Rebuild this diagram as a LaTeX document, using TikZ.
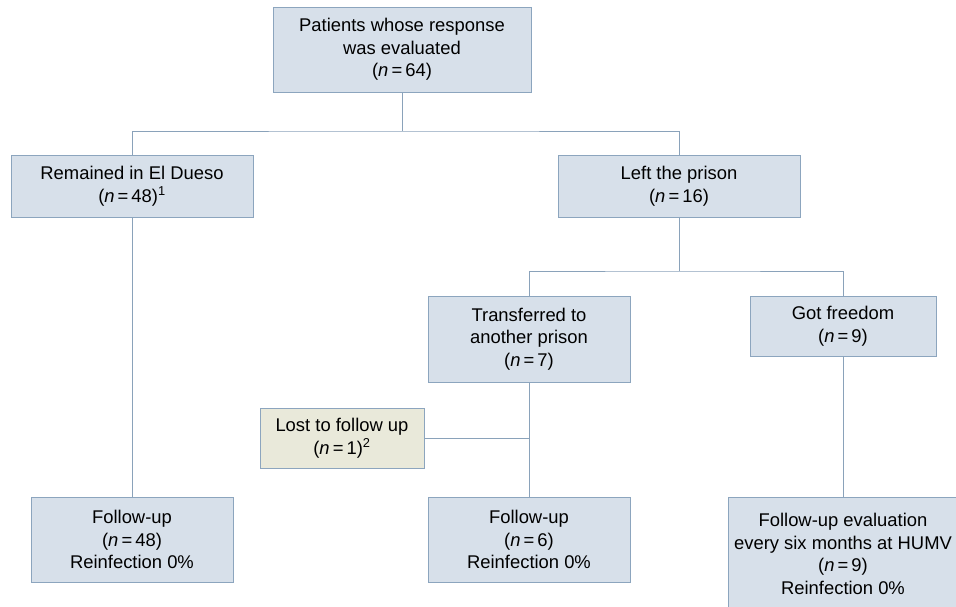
\documentclass[tikz,border=0pt]{standalone}
\usepackage{fontspec}
\setmainfont{Liberation Sans}
\usetikzlibrary{positioning}

\definecolor{boxfill}{HTML}{D7E0EA}
\definecolor{boxline}{HTML}{8CA5BE}
\definecolor{lostfill}{HTML}{E9E9DA}
\definecolor{linkline}{HTML}{8AA2BA}

\newcommand{\nn}[1]{(\textit{n}\,=\,#1)}

\begin{document}
\begin{tikzpicture}[
                x=1pt, y=-1pt,
                box/.style={draw=boxline, fill=boxfill, line width=1pt, align=center,
                            inner sep=0pt, font=\fontsize{18.4}{22.5}\selectfont},
                lostbox/.style={box, fill=lostfill},
                link/.style={draw=linkline, line width=1pt}
            ]
                \useasboundingbox (0,0) rectangle (956,606);

                % Top of the tree
                \node[box, minimum width=258pt, minimum height=85pt] (evaluated) at (402,49.5)
                    {Patients whose response\\was evaluated\\\nn{64}};

                % First split
                \node[box, minimum width=242pt, minimum height=62pt] (remained) at (132,186)
                    {Remained in El Dueso\\\nn{48}\textsuperscript{1}};
                \node[box, minimum width=242pt, minimum height=62pt] (left) at (679,186)
                    {Left the prison\\\nn{16}};

                % Second split
                \node[box, minimum width=202pt, minimum height=86pt] (transferred) at (529,339)
                    {Transferred to\\another prison\\\nn{7}};
                \node[box, minimum width=186pt, minimum height=60pt] (freedom) at (843,326)
                    {Got freedom\\\nn{9}};
                \node[lostbox, minimum width=164pt, minimum height=60pt] (lost) at (342,438)
                    {Lost to follow up\\\nn{1}\textsuperscript{2}};

                % Follow-up row
                \node[box, minimum width=202pt, minimum height=85pt] (followA) at (132,539.5)
                    {Follow-up\\\nn{48}\\Reinfection 0\%};
                \node[box, minimum width=202pt, minimum height=85pt] (followB) at (529,539.5)
                    {Follow-up\\\nn{6}\\Reinfection 0\%};
                \node[box, minimum width=230pt, minimum height=113pt, anchor=north] (followC) at (843,497)
                    {Follow-up evaluation\\every six months at HUMV\\\nn{9}\\Reinfection 0\%};

                % Branch points
                \coordinate (splitA) at (402,131);
                \coordinate (splitB) at (679,271);
                \coordinate (joinLost) at (529,438);

                % Connectors
                \draw[link] (evaluated.south) -- (splitA);
                \draw[link] (remained.north) |- (splitA) -| (left.north);
                \draw[link] (left.south) -- (splitB);
                \draw[link] (transferred.north) |- (splitB) -| (freedom.north);
                \draw[link] (remained.south) -- (followA.north);
                \draw[link] (transferred.south) -- (followB.north);
                \draw[link] (lost.east) -- (joinLost);
                \draw[link] (freedom.south) -- (followC.north);
            \end{tikzpicture}
\end{document}
